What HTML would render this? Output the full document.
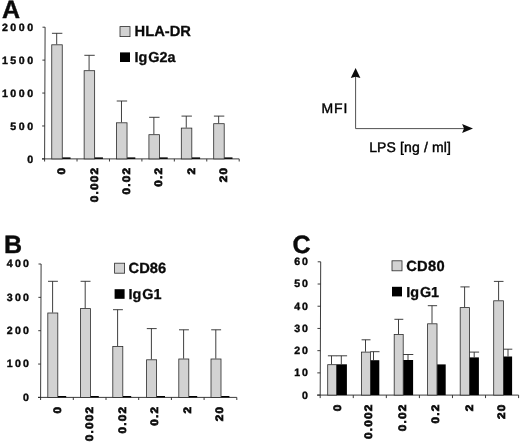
<!DOCTYPE html>
<html><head><meta charset="utf-8"><title>Figure</title>
<style>
html,body{margin:0;padding:0;background:#fff}
svg{display:block}
text{font-family:"Liberation Sans",Arial,Helvetica,sans-serif;fill:#0a0a0a;text-rendering:geometricPrecision}
.pl{font-size:25px;font-weight:bold;stroke:#0a0a0a;stroke-width:0.4px}
.yl{font-size:10.6px;font-weight:bold;letter-spacing:2.0px;text-anchor:end;stroke:#0a0a0a;stroke-width:0.4px}
.xl{font-size:10.7px;font-weight:bold;letter-spacing:1.1px;text-anchor:end;stroke:#0a0a0a;stroke-width:0.7px}
.lg{font-size:14.7px;font-weight:bold;letter-spacing:0px;stroke:#0a0a0a;stroke-width:0.3px}
.tx{font-size:14px;fill:#000;stroke:#000;stroke-width:0.4px}
.ax{stroke:#262626;stroke-width:0.9;fill:none}
.er{stroke:#2a2a2a;stroke-width:0.9;fill:none}
.ar{stroke:#333;stroke-width:0.85;fill:none}
.gb{fill:#d2d2d2;stroke:#2a2a2a;stroke-width:0.8}
.kb{fill:#000}
</style></head><body>
<svg width="520" height="443" viewBox="0 0 520 443">
<rect width="520" height="443" fill="#fff"/>
<text class="pl" x="1.9" y="18.1">A</text>
<text class="pl" x="3.9" y="252.5">B</text>
<text class="pl" x="292.6" y="252.5">C</text>
<path d="M45.1 27.2L44.6 158.9M42 158.9H239.2" class="ax"/>
<path d="M42.5 27.2H45.1M42.38 60.12H44.98M42.25 93.05H44.85M42.12 125.98H44.73M42 158.9H44.6M44.6 158.9v2.6M77.03 158.9v2.6M109.47 158.9v2.6M141.9 158.9v2.6M174.33 158.9v2.6M206.77 158.9v2.6M239.2 158.9v2.6" class="ax"/>
<text class="yl" transform="translate(33.1 30.9) scale(1 1)" x="2.55" style="letter-spacing:2.55px">2000</text>
<text class="yl" transform="translate(33.1 63.83) scale(1 1)" x="2.55" style="letter-spacing:2.55px">1500</text>
<text class="yl" transform="translate(33.1 96.75) scale(1 1)" x="2.55" style="letter-spacing:2.55px">1000</text>
<text class="yl" transform="translate(33.1 129.68) scale(1 1)" x="2.55" style="letter-spacing:2.55px">500</text>
<text class="yl" transform="translate(33.1 162.6) scale(1 1)" x="2.55" style="letter-spacing:2.55px">0</text>
<path d="M56.7 44.4V33.3M51.95 33.3H62.35" class="er"/>
<rect x="51.75" y="44.8" width="10.5" height="114.1" class="gb"/>
<rect x="62.45" y="157.4" width="8.1" height="1.5" class="kb"/>
<path d="M89.09 70.3V55.3M84.34 55.3H94.74" class="er"/>
<rect x="84.14" y="70.7" width="10.5" height="88.2" class="gb"/>
<rect x="94.84" y="157.4" width="8.1" height="1.5" class="kb"/>
<path d="M121.48 122.4V101M116.73 101H127.13" class="er"/>
<rect x="116.53" y="122.8" width="10.5" height="36.1" class="gb"/>
<rect x="127.23" y="157.4" width="8.1" height="1.5" class="kb"/>
<path d="M153.87 134.3V117.3M149.12 117.3H159.52" class="er"/>
<rect x="148.92" y="134.7" width="10.5" height="24.2" class="gb"/>
<rect x="159.62" y="157.4" width="8.1" height="1.5" class="kb"/>
<path d="M186.26 127.7V116.1M181.51 116.1H191.91" class="er"/>
<rect x="181.31" y="128.1" width="10.5" height="30.8" class="gb"/>
<rect x="192.01" y="157.4" width="8.1" height="1.5" class="kb"/>
<path d="M218.65 123.3V116.1M213.9 116.1H224.3" class="er"/>
<rect x="213.7" y="123.7" width="10.5" height="35.2" class="gb"/>
<rect x="224.4" y="157.4" width="8.1" height="1.5" class="kb"/>
<text class="xl" transform="translate(65.3 168) rotate(-90) scale(1.1 1)" x="1.1">0</text>
<text class="xl" transform="translate(97.6 168) rotate(-90) scale(1.1 1)" x="1.1">0.002</text>
<text class="xl" transform="translate(129.9 168) rotate(-90) scale(1.1 1)" x="1.1">0.02</text>
<text class="xl" transform="translate(162.2 168) rotate(-90) scale(1.1 1)" x="1.1">0.2</text>
<text class="xl" transform="translate(194.5 168) rotate(-90) scale(1.1 1)" x="1.1">2</text>
<text class="xl" transform="translate(226.8 168) rotate(-90) scale(1.1 1)" x="1.1">20</text>
<path d="M41.1 264L40.6 397.4M38 397.4H236.8" class="ax"/>
<path d="M38.5 264H41.1M38.38 297.35H40.98M38.25 330.7H40.85M38.12 364.05H40.73M38 397.4H40.6M40.6 397.4v2.6M73.3 397.4v2.6M106 397.4v2.6M138.7 397.4v2.6M171.4 397.4v2.6M204.1 397.4v2.6M236.8 397.4v2.6" class="ax"/>
<text class="yl" transform="translate(29 267.4) scale(1 1)" x="2.3" style="letter-spacing:2.3px">400</text>
<text class="yl" transform="translate(29 300.75) scale(1 1)" x="2.3" style="letter-spacing:2.3px">300</text>
<text class="yl" transform="translate(29 334.1) scale(1 1)" x="2.3" style="letter-spacing:2.3px">200</text>
<text class="yl" transform="translate(29 367.45) scale(1 1)" x="2.3" style="letter-spacing:2.3px">100</text>
<text class="yl" transform="translate(29 400.8) scale(1 1)" x="2.3" style="letter-spacing:2.3px">0</text>
<path d="M52.6 312.6V281.3M48 281.3H57.9" class="er"/>
<rect x="47.8" y="313" width="10" height="84.4" class="gb"/>
<rect x="58" y="396" width="8.2" height="1.4" class="kb"/>
<path d="M85.2 308.2V281.3M80.6 281.3H90.5" class="er"/>
<rect x="80.4" y="308.6" width="10" height="88.8" class="gb"/>
<rect x="90.6" y="396" width="8.2" height="1.4" class="kb"/>
<path d="M117.6 346V309.7M113 309.7H122.9" class="er"/>
<rect x="112.8" y="346.4" width="10" height="51" class="gb"/>
<rect x="123" y="396" width="8.2" height="1.4" class="kb"/>
<path d="M151.4 359.4V328.6M146.8 328.6H156.7" class="er"/>
<rect x="146.6" y="359.8" width="10" height="37.6" class="gb"/>
<rect x="156.8" y="396" width="8.2" height="1.4" class="kb"/>
<path d="M183.6 358.6V329.8M179 329.8H188.9" class="er"/>
<rect x="178.8" y="359" width="10" height="38.4" class="gb"/>
<rect x="189" y="396" width="8.2" height="1.4" class="kb"/>
<path d="M215.8 358.6V329.8M211.2 329.8H221.1" class="er"/>
<rect x="211" y="359" width="10" height="38.4" class="gb"/>
<rect x="221.2" y="396" width="8.2" height="1.4" class="kb"/>
<text class="xl" transform="translate(60.9 406.9) rotate(-90) scale(1.1 1)" x="1.1">0</text>
<text class="xl" transform="translate(93.3 406.9) rotate(-90) scale(1.1 1)" x="1.1">0.002</text>
<text class="xl" transform="translate(125.7 406.9) rotate(-90) scale(1.1 1)" x="1.1">0.02</text>
<text class="xl" transform="translate(158.1 406.9) rotate(-90) scale(1.1 1)" x="1.1">0.2</text>
<text class="xl" transform="translate(190.5 406.9) rotate(-90) scale(1.1 1)" x="1.1">2</text>
<text class="xl" transform="translate(222.9 406.9) rotate(-90) scale(1.1 1)" x="1.1">20</text>
<path d="M320.7 261.8L320.2 395.1M317.2 395.1H518.6" class="ax"/>
<path d="M317.7 261.8H320.7M317.62 284.02H320.62M317.53 306.23H320.53M317.45 328.45H320.45M317.37 350.67H320.37M317.28 372.88H320.28M317.2 395.1H320.2M320.2 395.1v3M353.27 395.1v3M386.33 395.1v3M419.4 395.1v3M452.47 395.1v3M485.53 395.1v3M518.6 395.1v3" class="ax"/>
<text class="yl" transform="translate(308 265.2) scale(1 1)" x="2.1" style="letter-spacing:2.1px">60</text>
<text class="yl" transform="translate(308 287.42) scale(1 1)" x="2.1" style="letter-spacing:2.1px">50</text>
<text class="yl" transform="translate(308 309.63) scale(1 1)" x="2.1" style="letter-spacing:2.1px">40</text>
<text class="yl" transform="translate(308 331.85) scale(1 1)" x="2.1" style="letter-spacing:2.1px">30</text>
<text class="yl" transform="translate(308 354.07) scale(1 1)" x="2.1" style="letter-spacing:2.1px">20</text>
<text class="yl" transform="translate(308 376.28) scale(1 1)" x="2.1" style="letter-spacing:2.1px">10</text>
<text class="yl" transform="translate(308 398.5) scale(1 1)" x="2.1" style="letter-spacing:2.1px">0</text>
<path d="M331.5 364.3V355.8M327.9 355.8H336.7" class="er"/>
<path d="M341.3 364.3V355.8M336.4 355.8H347.1" class="er"/>
<rect x="327.7" y="364.7" width="8.9" height="30.4" class="gb"/>
<rect x="336.8" y="364.3" width="10.1" height="30.8" class="kb"/>
<path d="M365.5 351.7V339.8M361.6 339.8H370.5" class="er"/>
<path d="M373.5 360.2V351.7M370.2 351.7H379.5" class="er"/>
<rect x="361.4" y="352.1" width="9" height="43" class="gb"/>
<rect x="370.6" y="360.2" width="8.7" height="34.9" class="kb"/>
<path d="M398.5 334.1V319.3M394.4 319.3H403.3" class="er"/>
<path d="M408 360V354.5M403 354.5H413.3" class="er"/>
<rect x="394.2" y="334.5" width="9" height="60.6" class="gb"/>
<rect x="403.4" y="360" width="9.7" height="35.1" class="kb"/>
<path d="M432 323.4V305.7M427.8 305.7H437.1" class="er"/>
<rect x="427.6" y="323.8" width="9.4" height="71.3" class="gb"/>
<rect x="437.2" y="364.4" width="8.5" height="30.7" class="kb"/>
<path d="M464.6 307.2V286.9M460.4 286.9H469.6" class="er"/>
<path d="M474.2 357.4V352.1M469.3 352.1H479.1" class="er"/>
<rect x="460.2" y="307.6" width="9.3" height="87.5" class="gb"/>
<rect x="469.7" y="357.4" width="9.2" height="37.7" class="kb"/>
<path d="M498.6 300.4V281.4M493.9 281.4H503.5" class="er"/>
<path d="M508 356.5V349.2M503.2 349.2H512.3" class="er"/>
<rect x="493.7" y="300.8" width="9.7" height="94.3" class="gb"/>
<rect x="503.6" y="356.5" width="8.5" height="38.6" class="kb"/>
<text class="xl" transform="translate(341.3 404.8) rotate(-90) scale(1.1 1)" x="1.1">0</text>
<text class="xl" transform="translate(372.2 404.8) rotate(-90) scale(1.1 1)" x="1.1">0.002</text>
<text class="xl" transform="translate(406 404.8) rotate(-90) scale(1.1 1)" x="1.1">0.02</text>
<text class="xl" transform="translate(439.15 404.8) rotate(-90) scale(1.1 1)" x="1.1">0.2</text>
<text class="xl" transform="translate(472.5 404.8) rotate(-90) scale(1.1 1)" x="1.1">2</text>
<text class="xl" transform="translate(504.8 404.8) rotate(-90) scale(1.1 1)" x="1.1">20</text>
<rect x="120" y="26.6" width="10" height="10" class="gb"/>
<rect x="120" y="52.4" width="10" height="9.6" class="kb"/>
<text class="lg" x="134.6" y="35.6">HLA-DR</text>
<text class="lg" x="134.6" y="61.6" style="font-size:14.4px">Ig<tspan dx="0.9">G</tspan>2a</text>
<rect x="114.6" y="263.2" width="10" height="10" class="gb"/>
<rect x="114.6" y="289.2" width="10" height="9.6" class="kb"/>
<text class="lg" x="128.6" y="273">CD86</text>
<text class="lg" x="128.6" y="298.9" style="font-size:14.4px">Ig<tspan dx="0.9">G</tspan>1</text>
<rect x="392" y="260.8" width="10" height="10" class="gb"/>
<rect x="392" y="286.8" width="10" height="9.6" class="kb"/>
<text class="lg" x="406.2" y="270.7"><tspan style="letter-spacing:0.3px">CD80</tspan></text>
<text class="lg" x="406.2" y="296.7" style="font-size:14.4px">Ig<tspan dx="0.9">G</tspan>1</text>
<path d="M355.6 76V128.6H464" class="ar"/>
<path d="M355.6 68.1L360.4 78.1L355.6 76.7L350.8 78.1Z" fill="#0c0c0c"/>
<path d="M473 128.6L462.1 124.1L464 128.6L462.1 133.1Z" fill="#0c0c0c"/>
<text class="tx" x="321.6" y="113.1" style="letter-spacing:0.8px">MFI</text>
<text class="tx" x="369.2" y="152.2" style="letter-spacing:0.13px">LPS [ng / ml]</text>
</svg>
</body></html>
